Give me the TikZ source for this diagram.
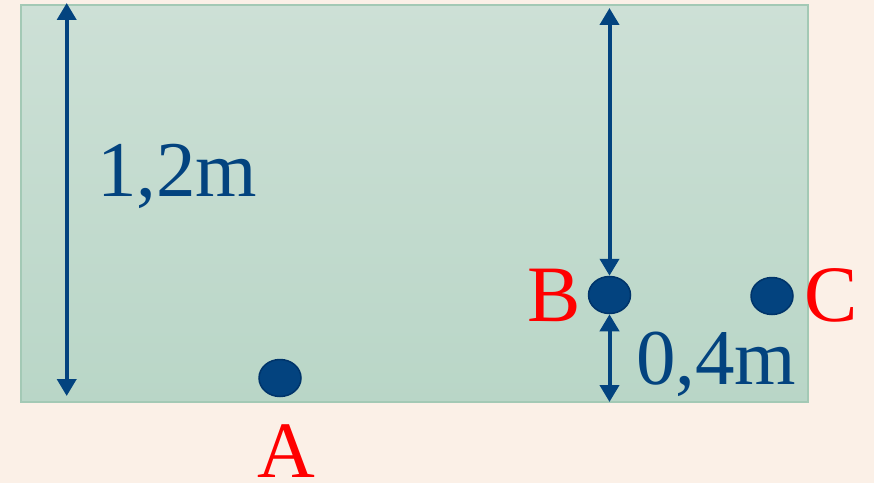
\documentclass[tikz,border=0pt]{standalone}
\usepackage{fontspec}
\setmainfont{Liberation Serif}
\usetikzlibrary{arrows.meta,shapes.geometric}
\definecolor{bgc}{HTML}{FBF0E7}
\definecolor{boxtop}{HTML}{CDE0D6}
\definecolor{boxbot}{HTML}{B9D6C7}
\definecolor{boxedge}{HTML}{A3C9B5}
\definecolor{navy}{HTML}{03437F}
\definecolor{dotedge}{HTML}{00346A}
\tikzset{
  dot/.style={ellipse, fill=navy, draw=dotedge, line width=1.5pt, minimum width=42pt, minimum height=37pt, inner sep=0pt},
  dimarrow/.style={navy, line width=4pt, {Triangle[width=19pt,length=17pt]}-{Triangle[width=19pt,length=17pt]}},
  dimlabel/.style={navy, font=\fontsize{79}{81}\selectfont, inner sep=0pt, anchor=base west},
  ptlabel/.style={red, font=\fontsize{80}{82}\selectfont, inner sep=0pt, anchor=base west}
}
\begin{document}
\begin{tikzpicture}[x=1pt,y=1pt]
\useasboundingbox (0,0) rectangle (874,483);
\fill[bgc] (0,0) rectangle (874,483);
\shade[top color=boxtop, bottom color=boxbot] (21,81) rectangle (808,478);
\draw[boxedge, line width=1.2pt] (21,81) rectangle (808,478);
% dots
\node[dot] (A) at (280,105) {};
\node[dot] (B) at (609.5,188) {};
\node[dot] (C) at (772,187) {};
% coordinates
\coordinate (Ltop) at (66.7,480);
\coordinate (Lbot) at (66.7,87);
\coordinate (Btop) at (609.5,475);
\coordinate (Bbot) at (609.5,81);
% arrows
\draw[dimarrow] (Ltop) -- (Lbot);
\draw[dimarrow] (Btop) -- (B.north);
\draw[dimarrow] (B.south) -- (Bbot);
% labels
\node[dimlabel] (L12) at (97,287) {1,2m};
\node[dimlabel] (L04) at (636,99) {0,4m};
\node[ptlabel] (LA) at (257,6) {A};
\node[ptlabel] (LB) at (527,162) {B};
\node[ptlabel] (LC) at (804,162) {C};
\end{tikzpicture}
\end{document}
